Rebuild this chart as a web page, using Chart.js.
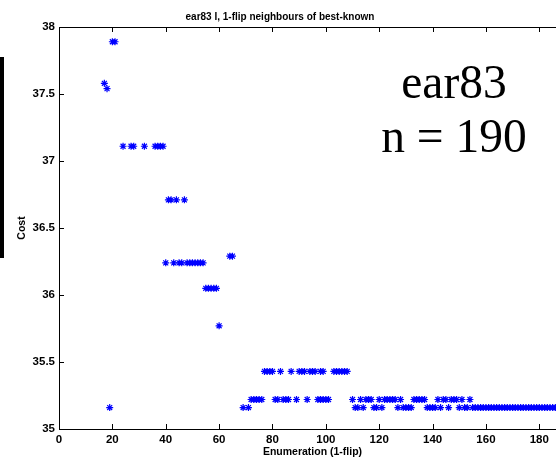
<!DOCTYPE html>
<html>
<head>
<meta charset="utf-8">
<script src="https://cdn.jsdelivr.net/npm/chart.js@4/dist/chart.umd.min.js"></script>
<style>
  html, body { margin: 0; padding: 0; background: #fff; overflow: hidden; }
  #wrap { position: relative; width: 600px; height: 461px; }
  #title { position: absolute; left: 180px; width: 200px; top: 10.5px; line-height: 12px;
    text-align: center; font: bold 10px "Liberation Sans", Arial, sans-serif; white-space: nowrap; }
  #note { position: absolute; left: 354px; width: 200px; top: 55px; line-height: 52px;
    text-align: center; font: 47.5px "Liberation Serif", "Times New Roman", serif; }
  #bar { position: absolute; left: 0; top: 57px; width: 4px; height: 201px; background: #000; }
</style>
</head>
<body>
<div id="wrap">
  <canvas id="chart"></canvas>
  <div id="title">ear83 I, 1-flip neighbours of best-known</div>
  <div id="note">ear83<br>n = 190</div>
  <div id="bar"></div>
</div>
<script>
// enumeration index of each 1-flip neighbour and its cost
const flips = [
  17, 18, 19, 20, 21, 24, 27, 28, 32, 36, 37, 38, 39,
  40, 41, 42, 43, 44, 45, 46, 47, 48, 49, 50, 51, 52, 53, 54,
  55, 56, 57, 58, 59, 60, 64, 65, 69, 71,
  72, 73, 74, 75, 76, 77, 78, 79, 80, 81, 82, 83, 84, 85, 86, 87, 89,
  90, 91, 92, 93, 94, 95, 96, 97, 98, 98, 99, 99, 100, 101,
  103, 104, 105, 106, 107, 108, 110,
  111, 112, 113, 114, 115, 116, 117, 118, 119, 120, 121, 122, 123, 124, 125,
  126, 127, 128, 129, 130, 131, 132, 133, 134, 135, 136, 137, 138, 139, 140,
  141, 142, 143, 144, 145, 146, 147, 148, 149, 150, 151, 152, 153, 154, 155,
  156, 157, 158, 159, 160, 161, 162, 163, 164, 165, 166, 167, 168, 169, 170,
  171, 172, 173, 174, 175, 176, 177, 178, 179, 180, 181, 182, 183, 184, 185,
  186, 187, 188, 189, 190
];
const cost = [
  37.58, 37.54, 35.16, 37.89, 37.89, 37.11, 37.11, 37.11, 37.11, 37.11, 37.11, 37.11, 37.11,
  36.24, 36.71, 36.71, 36.24, 36.71, 36.24, 36.24, 36.71, 36.24, 36.24, 36.24, 36.24, 36.24, 36.24, 36.24,
  36.05, 36.05, 36.05, 36.05, 36.05, 35.77, 36.29, 36.29, 35.16, 35.16,
  35.22, 35.22, 35.22, 35.22, 35.22, 35.43, 35.43, 35.43, 35.43, 35.22, 35.22, 35.43, 35.22, 35.22, 35.22, 35.43, 35.22,
  35.43, 35.43, 35.43, 35.22, 35.43, 35.43, 35.43, 35.22, 35.43, 35.22, 35.43, 35.22, 35.22, 35.22,
  35.43, 35.43, 35.43, 35.43, 35.43, 35.43, 35.22,
  35.16, 35.16, 35.22, 35.16, 35.22, 35.22, 35.22, 35.16, 35.16, 35.22, 35.16, 35.22, 35.22, 35.22, 35.22,
  35.22, 35.16, 35.22, 35.16, 35.16, 35.16, 35.16, 35.22, 35.22, 35.22, 35.22, 35.22, 35.16, 35.16, 35.16,
  35.16, 35.22, 35.16, 35.22, 35.22, 35.16, 35.22, 35.22, 35.22, 35.16, 35.22, 35.16, 35.16, 35.22, 35.16,
  35.16, 35.16, 35.16, 35.16, 35.16, 35.16, 35.16, 35.16, 35.16, 35.16, 35.16, 35.16, 35.16, 35.16, 35.16,
  35.16, 35.16, 35.16, 35.16, 35.16, 35.16, 35.16, 35.16, 35.16, 35.16, 35.16, 35.16, 35.16, 35.16, 35.16,
  35.16, 35.16, 35.16, 35.16, 35.16
];
const xTicks = [0, 20, 40, 60, 80, 100, 120, 140, 160, 180];
const yTicks = [35, 35.5, 36, 36.5, 37, 37.5, 38];

const tickFont = { family: "'Liberation Sans', Arial, sans-serif", size: 11.5, weight: 'bold' };

// matlab style box with inward ticks
const boxTicks = {
    id: 'boxTicks',
    afterDraw(chart) {
        const { ctx, chartArea: a, scales: { x, y } } = chart;
        ctx.save();
        ctx.strokeStyle = '#000';
        ctx.lineWidth = 1;
        ctx.strokeRect(a.left + 0.5, a.top + 0.5, a.right - a.left, a.bottom - a.top);
        ctx.beginPath();
        x.ticks.forEach(t => {
            let px = Math.round(x.getPixelForValue(t.value)) + 0.5;
            ctx.moveTo(px, a.bottom); ctx.lineTo(px, a.bottom - 5);
            ctx.moveTo(px, a.top); ctx.lineTo(px, a.top + 5);
        });
        y.ticks.forEach(t => {
            let py = Math.round(y.getPixelForValue(t.value)) + 0.5;
            ctx.moveTo(a.left, py); ctx.lineTo(a.left + 5, py);
            ctx.moveTo(a.right, py); ctx.lineTo(a.right - 5, py);
        });
        ctx.stroke();
        ctx.restore();
    }
};

new Chart(document.getElementById('chart'), {
    type: 'scatter',
    data: {
        datasets: [{
            data: flips.map((f, i) => ({ x: f, y: cost[i] })),
            pointStyle: 'star',
            pointRadius: 3.5,
            borderWidth: 1.2,
            borderColor: '#0000ff',
            backgroundColor: '#0000ff',
        }],
    },
    options: {
        responsive: true,
        maintainAspectRatio: false,
        animation: false,
        layout: { padding: { top: 27, left: 0, right: 34, bottom: 0 } },
        plugins: { legend: { display: false }, tooltip: { enabled: false } },
        scales: {
            x: {
                type: 'linear', min: 0, max: 190,
                afterBuildTicks: s => { s.ticks = xTicks.map(v => ({ value: v })); },
                afterFit: s => { s.height = 32; },
                grid: { display: false, drawTicks: false },
                border: { display: false },
                ticks: { color: '#000', font: tickFont, padding: 4, maxRotation: 0,
                    callback: v => `${v}` },
                title: { display: true, text: 'Enumeration (1-flip)', color: '#000',
                    font: { family: "'Liberation Sans', Arial, sans-serif", size: 10.5, weight: 'bold' },
                    padding: { top: 0, bottom: 3 } },
            },
            y: {
                type: 'linear', min: 35, max: 38,
                afterBuildTicks: s => { s.ticks = yTicks.map(v => ({ value: v })); },
                afterFit: s => { s.width = 59; },
                grid: { display: false, drawTicks: false },
                border: { display: false },
                ticks: { color: '#000', font: tickFont, padding: 4,
                    callback: v => `${v}` },
                title: { display: true, text: 'Cost', color: '#000',
                    font: { family: "'Liberation Sans', Arial, sans-serif", size: 10.5, weight: 'bold' },
                    padding: { top: 16, bottom: 0 } },
            },
        },
    },
    plugins: [boxTicks],
});
</script>
</body>
</html>
